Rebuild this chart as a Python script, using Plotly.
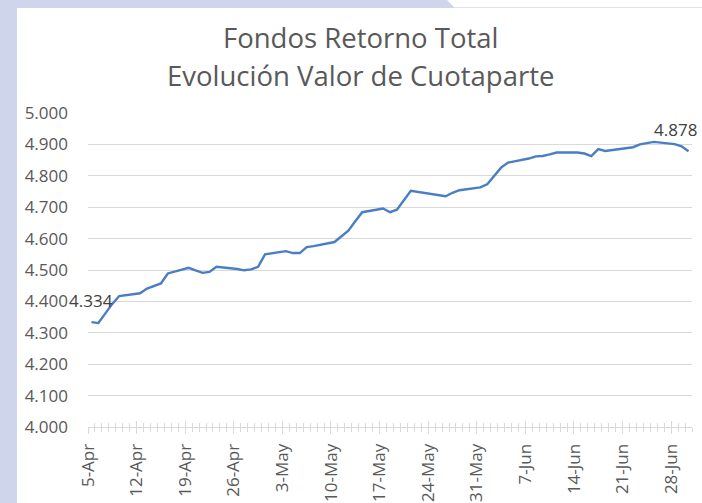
import plotly.graph_objects as go
import pandas as pd

# ---- data ----
dates = [
    "2021-04-05", "2021-04-06", "2021-04-07", "2021-04-08", "2021-04-09",
    "2021-04-12", "2021-04-13", "2021-04-14", "2021-04-15", "2021-04-16",
    "2021-04-19", "2021-04-20", "2021-04-21", "2021-04-22", "2021-04-23",
    "2021-04-26", "2021-04-27", "2021-04-28", "2021-04-29", "2021-04-30",
    "2021-05-03", "2021-05-04", "2021-05-05", "2021-05-06", "2021-05-07",
    "2021-05-10", "2021-05-11", "2021-05-12", "2021-05-13", "2021-05-14",
    "2021-05-17", "2021-05-18", "2021-05-19", "2021-05-20", "2021-05-21",
    "2021-05-26", "2021-05-27", "2021-05-28", "2021-05-31",
    "2021-06-01", "2021-06-02", "2021-06-03", "2021-06-04",
    "2021-06-07", "2021-06-08", "2021-06-09", "2021-06-10", "2021-06-11",
    "2021-06-14", "2021-06-15", "2021-06-16", "2021-06-17", "2021-06-18",
    "2021-06-22", "2021-06-23", "2021-06-24", "2021-06-25",
    "2021-06-28", "2021-06-29", "2021-06-30",
]
cuotaparte = [
    4334, 4331, 4362, 4392, 4417,
    4426, 4441, 4449, 4457, 4489,
    4507, 4499, 4491, 4494, 4510,
    4503, 4499, 4502, 4510, 4550,
    4560, 4554, 4554, 4573, 4576,
    4589, 4606, 4625, 4655, 4684,
    4696, 4684, 4692, 4722, 4752,
    4735, 4746, 4754, 4763,
    4773, 4800, 4826, 4842,
    4855, 4862, 4863, 4868, 4874,
    4874, 4871, 4863, 4885, 4879,
    4891, 4900, 4905, 4908,
    4901, 4894, 4878,
]
title_lines = ["Fondos Retorno Total", "Evolución Valor de Cuotaparte"]
y_ticks = [4000, 4100, 4200, 4300, 4400, 4500, 4600, 4700, 4800, 4900, 5000]

# points sit in the middle of each day slot (Excel date axis)
x = pd.to_datetime(dates) + pd.Timedelta(hours=12)

W, H = 702, 503
ML, MR, MT, MB = 88, 10, 113, 76
PW, PH = W - ML - MR, H - MT - MB


def px(v):
    return (v - ML) / PW


def py(v):
    return (H - MB - v) / PH


FONT = "Open Sans"
GREY = "#595959"
LAV = "#cfd5ea"

fig = go.Figure()
fig.add_trace(go.Scatter(
    x=x, y=cuotaparte, mode="lines",
    line=dict(color="#4a7ec4", width=2.4, shape="linear"),
    showlegend=False, hoverinfo="skip",
))
# invisible twin trace for the inside half of the crossing ticks
fig.add_trace(go.Scatter(
    x=x, y=cuotaparte, mode="lines", xaxis="x2",
    line=dict(width=0), opacity=0, showlegend=False, hoverinfo="skip",
))

annotations = []
for i, xa, xs in [(0, "center", 0), (len(cuotaparte) - 1, "right", 10)]:
    annotations.append(dict(
        x=x[i], y=cuotaparte[i], xref="x", yref="y",
        text=f"{cuotaparte[i]:,}".replace(",", "."),
        showarrow=False, xanchor=xa, yanchor="bottom", xshift=xs, yshift=8,
        font=dict(family=FONT, size=17, color="#404040"),
    ))
annotations.append(dict(
    x=px(360), y=py(37), xref="paper", yref="paper", text=title_lines[0],
    showarrow=False, xanchor="center", yanchor="middle",
    font=dict(family=FONT, size=27.5, color=GREY),
))
annotations.append(dict(
    x=px(360), y=py(75), xref="paper", yref="paper", text=title_lines[1],
    showarrow=False, xanchor="center", yanchor="middle",
    font=dict(family=FONT, size=27.5, color=GREY),
))

shapes = [
    dict(type="rect", xref="paper", yref="paper", x0=px(0), x1=px(17),
         y0=py(H), y1=py(0), fillcolor=LAV, line=dict(width=0), layer="below"),
    dict(type="path", xref="paper", yref="paper",
         path=f"M {px(0)},{py(0)} L {px(447)},{py(0)} L {px(455)},{py(8)} L {px(0)},{py(8)} Z",
         fillcolor=LAV, line=dict(width=0), layer="below"),
    dict(type="line", xref="paper", yref="paper", x0=px(455), x1=px(W),
         y0=py(7.5), y1=py(7.5), line=dict(color="#e3e3e3", width=1), layer="below"),
]

xrange = ["2021-04-05", "2021-07-01"]
fig.update_layout(
    width=W, height=H,
    margin=dict(l=ML, r=MR, t=MT, b=MB, pad=0, autoexpand=False),
    paper_bgcolor="white", plot_bgcolor="white",
    separators=",.",
    annotations=annotations, shapes=shapes,
    xaxis=dict(
        type="date", range=xrange, tick0="2021-04-05", dtick=7 * 86400000,
        tickformat="%-d-%b", tickangle=-90, automargin=False,
        ticks="outside", ticklen=6, tickcolor="#d9d9d9", tickwidth=1,
        minor=dict(dtick=86400000, tick0="2021-04-05", ticks="outside",
                   ticklen=4, tickcolor="#d9d9d9", showgrid=False),
        showgrid=False, showline=True, linecolor="#d9d9d9", linewidth=1,
        tickfont=dict(family=FONT, size=17, color=GREY),
        ticklabelstandoff=3, zeroline=False,
    ),
    xaxis2=dict(
        type="date", range=xrange, overlaying="x", matches="x", anchor="y",
        tick0="2021-04-05", dtick=7 * 86400000, automargin=False,
        ticks="inside", ticklen=6, tickcolor="#d9d9d9", tickwidth=1,
        minor=dict(dtick=86400000, tick0="2021-04-05", ticks="inside",
                   ticklen=4, tickcolor="#d9d9d9", showgrid=False),
        showticklabels=False, showgrid=False, showline=False, zeroline=False,
        side="bottom",
    ),
    yaxis=dict(
        range=[4000, 5000], tickvals=y_ticks, tickformat=",d", automargin=False,
        showgrid=True, gridcolor="#d9d9d9", gridwidth=1,
        showline=False, zeroline=False, ticks="",
        tickfont=dict(family=FONT, size=17, color=GREY),
        ticklabelstandoff=19,
    ),
)

fig.write_html("out.html", config={"displayModeBar": False},
               post_script="document.body.style.margin='0';")
